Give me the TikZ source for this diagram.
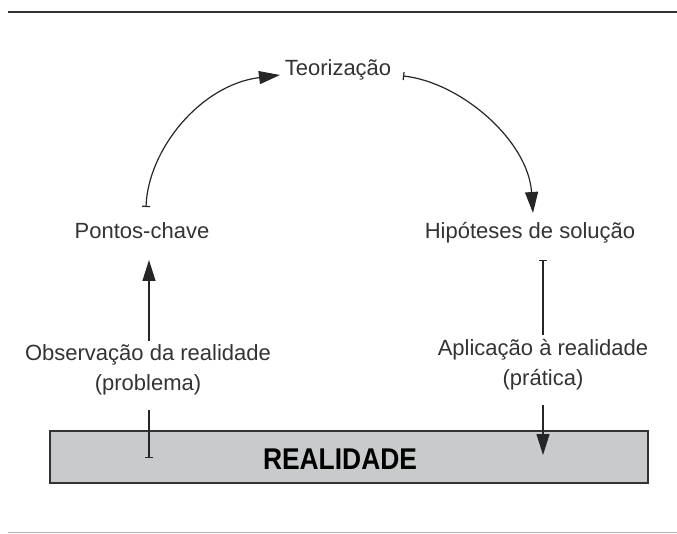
\documentclass[tikz,border=0pt]{standalone}
\usepackage{fontspec}
\setmainfont{Liberation Sans}
\newfontfamily\condfont{Liberation Sans}[FakeStretch=0.88]
\usetikzlibrary{arrows.meta}
\definecolor{boxgray}{HTML}{C8CACB}
\definecolor{txtgray}{HTML}{333333}
\begin{document}
\begin{tikzpicture}[x=1pt,y=-1pt,
  lbl/.style={font=\fontsize{22}{30}\selectfont, text=txtgray, inner sep=0pt, align=center},
  tiphead/.tip={Triangle[length=21pt,width=13pt]},
  barhead/.tip={Bar[width=8pt,line width=1.2pt]},
  conn/.style={line width=1.2pt, black!85, barhead-tiphead},
  tipped/.style={line width=1.2pt, black!85, -tiphead},
  barred/.style={line width=1.2pt, black!85, barhead-}]
\useasboundingbox (0,0) rectangle (677,534);
% rules
\draw[line width=2.5pt, black!80] (8,12) coordinate (t1) -- (677,12) coordinate (t2);
\draw[line width=1pt, black!30] (8,532) coordinate (b1) -- (677,532) coordinate (b2);
% box
\node[draw=black!80, line width=1.3pt, fill=boxgray, minimum width=598pt, minimum height=52pt, inner sep=0pt] (real) at (349,457) {};
\node[font=\condfont\fontsize{30}{34}\selectfont\bfseries, text=black, anchor=base] (realtxt) at (340,469) {REALIDADE};
% nodes
\node[lbl, anchor=base] (teo) at (338,76) {Teorização};
\node[lbl, anchor=base] (pc) at (142,239) {Pontos-chave};
\node[lbl, anchor=base] (hip) at (530,239) {Hipóteses de solução};
\node[lbl] (obs) at (148,370) {Observação da realidade\\(problema)};
\node[lbl] (apl) at (543,365) {Aplicação à realidade\\(prática)};
% coordinates
\coordinate (c1) at (146,207);
\coordinate (c2) at (280,75);
\coordinate (c3) at (403,76);
\coordinate (c4) at (533,213);
\coordinate (l1) at (149,458);
\coordinate (l2) at (149,410);
\coordinate (l3) at (149,341);
\coordinate (l4) at (149,260);
\coordinate (r1) at (543,260);
\coordinate (r2) at (543,335);
\coordinate (r3) at (543,405);
\coordinate (r4) at (543,455);
% curved arrows
\draw[conn] (c1) .. controls (148,150) and (200,85) .. (c2);
\draw[conn] (c3) .. controls (460,82) and (528,140) .. (c4);
% verticals
\draw[barred] (l1) -- (l2);
\draw[tipped] (l3) -- (l4);
\draw[barred] (r1) -- (r2);
\draw[tipped] (r3) -- (r4);
\end{tikzpicture}
\end{document}
